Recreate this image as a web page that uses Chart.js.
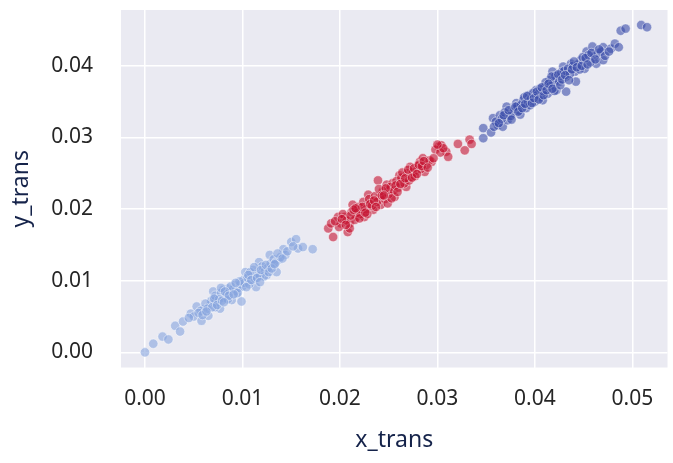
<!DOCTYPE html>
<html>
<head>
<meta charset="utf-8">
<script src="https://cdn.jsdelivr.net/npm/chart.js@4.4.1/dist/chart.umd.min.js"></script>
<style>
  html, body { margin: 0; padding: 0; background: #ffffff; }
  #wrap { width: 673px; height: 463px; }
</style>
</head>
<body>
<div id="wrap"><canvas id="scatterChart" width="673" height="463"></canvas></div>
<script>
// values (x_trans / y_trans)
const lowX = [0.0000, 0.00085, 0.0018, 0.0024, 0.0031, 0.0036, 0.0039, 0.0047, 0.0050, 0.0053,
  0.0058, 0.0060, 0.0065, 0.0067, 0.0070, 0.0073, 0.0077, 0.0080, 0.0083, 0.0085,
  0.0089, 0.0092, 0.0094, 0.0099, 0.0101, 0.0103, 0.0108, 0.0111, 0.0114, 0.0117,
  0.0121, 0.0125, 0.0128, 0.0131, 0.0135, 0.0137, 0.0142, 0.0144, 0.0150, 0.0155,
  0.0157, 0.0162, 0.0172, 0.0068, 0.0072, 0.0075, 0.0078, 0.0081, 0.0084, 0.0087,
  0.0090, 0.0093, 0.0096, 0.0098, 0.0100, 0.0102, 0.0105, 0.0107, 0.0110, 0.0113,
  0.0116, 0.0118, 0.0120, 0.0123, 0.0126, 0.0129, 0.0132, 0.0134, 0.0139, 0.0062,
  0.0057, 0.0078, 0.0088, 0.0095, 0.0076, 0.0072, 0.0085, 0.0108, 0.0122,
  0.0055, 0.0059, 0.0064, 0.0069, 0.0071, 0.0074, 0.0079, 0.0082, 0.0086, 0.0091,
  0.0097, 0.0104, 0.0106, 0.0109, 0.0112, 0.0115, 0.0119, 0.0124, 0.0127, 0.0130,
  0.0133, 0.0136, 0.0141, 0.0146, 0.0152, 0.0045, 0.0063, 0.0081, 0.0093, 0.0118];
const lowY = [0.0000, 0.0012, 0.0022, 0.0018, 0.0037, 0.0029, 0.0043, 0.0054, 0.0050, 0.0064,
  0.0044, 0.0060, 0.0051, 0.0066, 0.0085, 0.0073, 0.0061, 0.0087, 0.0078, 0.0089,
  0.0073, 0.0094, 0.0082, 0.0071, 0.0101, 0.0112, 0.0099, 0.0115, 0.0091, 0.0126,
  0.0115, 0.0108, 0.0136, 0.0122, 0.0112, 0.0129, 0.0144, 0.0136, 0.0154, 0.0158,
  0.0145, 0.0147, 0.0144, 0.0072, 0.0079, 0.0070, 0.0083, 0.0076, 0.0081, 0.0084,
  0.0088, 0.0086, 0.0090, 0.0095, 0.0092, 0.0097, 0.0104, 0.0095, 0.0106, 0.0103,
  0.0110, 0.0107, 0.0120, 0.0113, 0.0118, 0.0124, 0.0130, 0.0125, 0.0133, 0.0068,
  0.0058, 0.0090, 0.0092, 0.0083, 0.0074, 0.0063, 0.0074, 0.0112, 0.0106,
  0.0055, 0.0052, 0.0061, 0.0063, 0.0075, 0.0066, 0.0072, 0.0085, 0.0079, 0.0081,
  0.0099, 0.0091, 0.0108, 0.0101, 0.0119, 0.0104, 0.0115, 0.0122, 0.0112, 0.0117,
  0.0123, 0.0138, 0.0131, 0.0141, 0.0148, 0.0048, 0.0057, 0.0070, 0.0097, 0.0098];

const midX = [0.0188, 0.0193, 0.0191, 0.0198, 0.0201, 0.0205, 0.0208, 0.0210, 0.0213, 0.0217,
  0.0222, 0.0225, 0.0229, 0.0232, 0.0234, 0.0239, 0.0241, 0.0242, 0.0248, 0.0251,
  0.0254, 0.0256, 0.0261, 0.0265, 0.0268, 0.0272, 0.0273, 0.0278, 0.0282, 0.0285,
  0.0287, 0.0294, 0.0301, 0.0304, 0.0309, 0.0311, 0.0321, 0.0328, 0.0333, 0.0335,
  0.0203, 0.0207, 0.0212, 0.0215, 0.0219, 0.0221, 0.0224, 0.0227, 0.0230, 0.0233,
  0.0236, 0.0238, 0.0244, 0.0246, 0.0250, 0.0252, 0.0255, 0.0258, 0.0260, 0.0263,
  0.0266, 0.0269, 0.0271, 0.0275, 0.0277, 0.0280, 0.0283, 0.0289, 0.0292, 0.0298,
  0.0303, 0.0306, 0.0199, 0.0210, 0.0218, 0.0228, 0.0240,
  0.0195, 0.0202, 0.0206, 0.0211, 0.0214, 0.0220, 0.0223, 0.0226, 0.0231, 0.0235,
  0.0237, 0.0243, 0.0247, 0.0249, 0.0253, 0.0257, 0.0259, 0.0262, 0.0264, 0.0267,
  0.0270, 0.0274, 0.0276, 0.0279, 0.0281, 0.0284, 0.0286, 0.0290, 0.0296, 0.0300,
  0.0216, 0.0245];
const midY = [0.0173, 0.0161, 0.0180, 0.0189, 0.0180, 0.0189, 0.0168, 0.0180, 0.0206, 0.0189,
  0.0200, 0.0189, 0.0220, 0.0210, 0.0199, 0.0240, 0.0217, 0.0206, 0.0234, 0.0227,
  0.0236, 0.0217, 0.0247, 0.0238, 0.0231, 0.0259, 0.0245, 0.0254, 0.0266, 0.0271,
  0.0252, 0.0266, 0.0287, 0.0289, 0.0280, 0.0273, 0.0291, 0.0282, 0.0297, 0.0291,
  0.0193, 0.0184, 0.0196, 0.0185, 0.0203, 0.0193, 0.0210, 0.0200, 0.0214, 0.0205,
  0.0218, 0.0210, 0.0225, 0.0214, 0.0221, 0.0231, 0.0226, 0.0239, 0.0230, 0.0244,
  0.0236, 0.0250, 0.0240, 0.0252, 0.0246, 0.0260, 0.0256, 0.0262, 0.0268, 0.0283,
  0.0279, 0.0285, 0.0175, 0.0173, 0.0195, 0.0193, 0.0228,
  0.0183, 0.0186, 0.0178, 0.0191, 0.0199, 0.0187, 0.0203, 0.0195, 0.0207, 0.0212,
  0.0203, 0.0219, 0.0229, 0.0208, 0.0215, 0.0233, 0.0224, 0.0235, 0.0251, 0.0243,
  0.0255, 0.0244, 0.0257, 0.0249, 0.0262, 0.0260, 0.0267, 0.0258, 0.0271, 0.0290,
  0.0201, 0.0219];

const highX = [0.0347, 0.0347, 0.0355, 0.0357, 0.0362, 0.0364, 0.0367, 0.0371, 0.0372, 0.0377,
  0.0381, 0.0384, 0.0388, 0.0391, 0.0394, 0.0400, 0.0401, 0.0406, 0.0410, 0.0413,
  0.0415, 0.0418, 0.0422, 0.0423, 0.0429, 0.0432, 0.0432, 0.0437, 0.0441, 0.0442,
  0.0447, 0.0451, 0.0453, 0.0459, 0.0461, 0.0463, 0.0470, 0.0470, 0.0478, 0.0482,
  0.0486, 0.0488, 0.0493, 0.0509, 0.0515, 0.0360, 0.0366, 0.0369, 0.0375, 0.0379,
  0.0382, 0.0386, 0.0389, 0.0393, 0.0396, 0.0398, 0.0403, 0.0405, 0.0408, 0.0411,
  0.0416, 0.0419, 0.0421, 0.0425, 0.0427, 0.0430, 0.0434, 0.0436, 0.0439, 0.0444,
  0.0446, 0.0449, 0.0455, 0.0457, 0.0465, 0.0468, 0.0420, 0.0408, 0.0385, 0.0395, 0.0417,
  0.0358, 0.0363, 0.0368, 0.0373, 0.0376, 0.0380, 0.0383, 0.0387, 0.0390, 0.0392,
  0.0397, 0.0399, 0.0402, 0.0404, 0.0407, 0.0409, 0.0412, 0.0414, 0.0418, 0.0424,
  0.0426, 0.0428, 0.0431, 0.0435, 0.0438, 0.0440, 0.0443, 0.0448, 0.0452, 0.0454,
  0.0458, 0.0462, 0.0466, 0.0472, 0.0476];
const highY = [0.0313, 0.0299, 0.0307, 0.0327, 0.0317, 0.0331, 0.0315, 0.0343, 0.0324, 0.0334,
  0.0348, 0.0338, 0.0352, 0.0341, 0.0359, 0.0350, 0.0366, 0.0357, 0.0371, 0.0361,
  0.0380, 0.0392, 0.0366, 0.0382, 0.0399, 0.0385, 0.0364, 0.0403, 0.0392, 0.0378,
  0.0408, 0.0396, 0.0420, 0.0427, 0.0413, 0.0403, 0.0408, 0.0426, 0.0424, 0.0431,
  0.0426, 0.0449, 0.0452, 0.0457, 0.0454, 0.0322, 0.0326, 0.0335, 0.0330, 0.0340,
  0.0344, 0.0346, 0.0356, 0.0350, 0.0354, 0.0362, 0.0360, 0.0368, 0.0363, 0.0377,
  0.0372, 0.0376, 0.0386, 0.0378, 0.0391, 0.0393, 0.0396, 0.0389, 0.0400, 0.0402,
  0.0395, 0.0412, 0.0415, 0.0405, 0.0418, 0.0420, 0.0365, 0.0352, 0.0332, 0.0345, 0.0385,
  0.0315, 0.0320, 0.0331, 0.0338, 0.0325, 0.0343, 0.0336, 0.0341, 0.0347, 0.0358,
  0.0348, 0.0355, 0.0364, 0.0353, 0.0370, 0.0359, 0.0366, 0.0375, 0.0368, 0.0388,
  0.0373, 0.0381, 0.0387, 0.0380, 0.0395, 0.0406, 0.0398, 0.0400, 0.0411, 0.0402,
  0.0418, 0.0409, 0.0423, 0.0414, 0.0420];

const xTicks = [0, 0.01, 0.02, 0.03, 0.04, 0.05];
const yTicks = [0, 0.01, 0.02, 0.03, 0.04];

const toPoints = (xs, ys) => xs.map((x, i) => ({ x: x, y: ys[i] }));

// seaborn-like grey plot area
const plotBackground = {
  id: 'plotBackground',
  beforeDraw(chart) {
    const { ctx, chartArea } = chart;
    ctx.save();
    ctx.fillStyle = '#eaeaf2';
    ctx.fillRect(chartArea.left, chartArea.top, chartArea.right - chartArea.left, chartArea.bottom - chartArea.top);
    ctx.restore();
  }
};

function makeSet(label, xs, ys, color) {
  return {
    label: label,
    data: toPoints(xs, ys),
    backgroundColor: color,
    borderColor: 'rgba(255, 255, 255, 0.6)',
    borderWidth: 0.8,
    pointRadius: 4.7,
    pointHoverRadius: 4.7
  };
}

const tickFont = { family: 'Noto Sans', size: 21 };
const titleFont = { family: 'Noto Sans', size: 23 };

new Chart(document.getElementById('scatterChart'), {
  type: 'scatter',
  data: {
    datasets: [
      makeSet('low', lowX, lowY, 'rgba(134, 163, 222, 0.6)'),
      makeSet('mid', midX, midY, 'rgba(196, 18, 48, 0.6)'),
      makeSet('high', highX, highY, 'rgba(58, 76, 170, 0.6)')
    ]
  },
  plugins: [plotBackground],
  options: {
    responsive: false,
    animation: false,
    layout: { padding: { left: 0, right: 5, top: 10, bottom: 0 } },
    plugins: {
      legend: { display: false },
      tooltip: { enabled: false }
    },
    scales: {
      x: {
        type: 'linear',
        min: -0.00246,
        max: 0.0536,
        afterBuildTicks: (axis) => { axis.ticks = xTicks.map(v => ({ value: v })); },
        afterFit: (axis) => { axis.height = 95.5; axis.paddingLeft = 0; axis.paddingRight = 0; },
        ticks: {
          font: tickFont,
          color: '#262626',
          padding: 19,
          callback: (v) => v.toFixed(2)
        },
        grid: { color: '#ffffff', lineWidth: 1.5, drawTicks: false },
        border: { display: false },
        title: {
          display: true,
          text: 'x_trans',
          font: titleFont,
          color: '#15234a',
          padding: { top: 0, bottom: 9 }
        }
      },
      y: {
        type: 'linear',
        min: -0.00212,
        max: 0.0478,
        afterBuildTicks: (axis) => { axis.ticks = yTicks.map(v => ({ value: v })); },
        afterFit: (axis) => { axis.width = 121; axis.paddingTop = 0; axis.paddingBottom = 0; },
        ticks: {
          font: tickFont,
          color: '#262626',
          padding: 28,
          callback: (v) => v.toFixed(2)
        },
        grid: { color: '#ffffff', lineWidth: 1.5, drawTicks: false },
        border: { display: false },
        title: {
          display: true,
          text: 'y_trans',
          font: titleFont,
          color: '#15234a',
          padding: { top: 8, bottom: 0 }
        }
      }
    }
  }
});
</script>
</body>
</html>
